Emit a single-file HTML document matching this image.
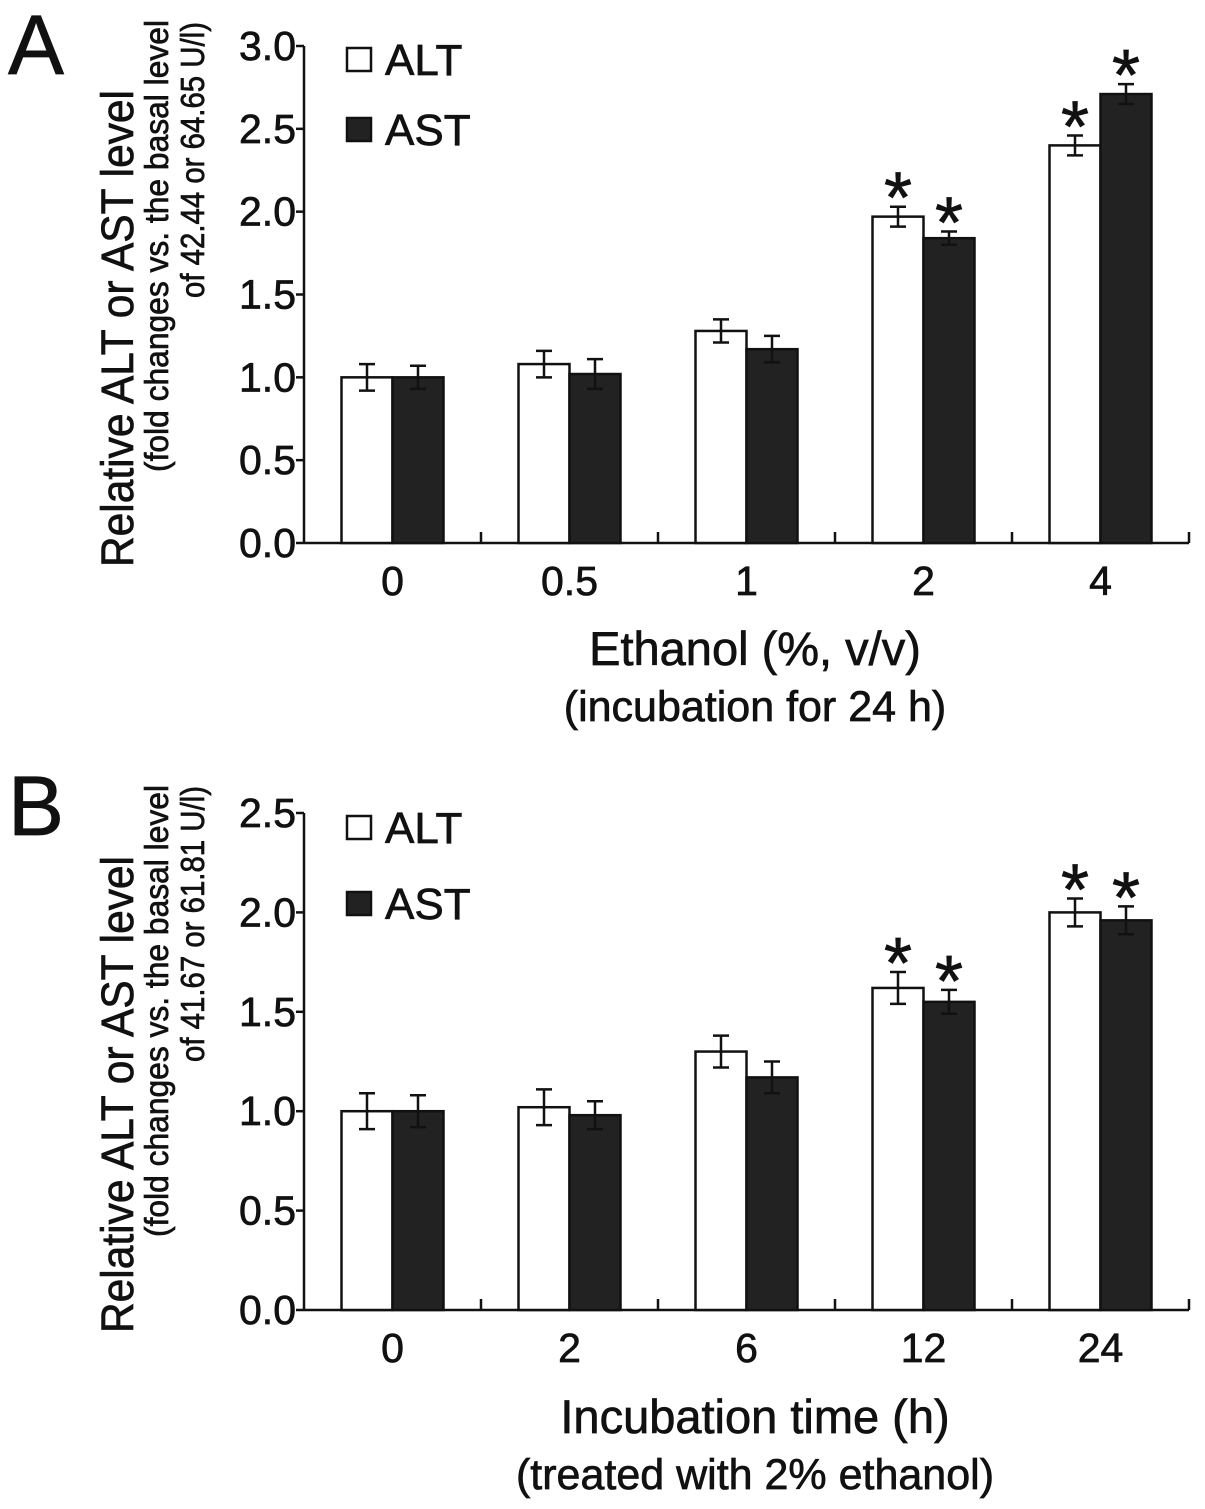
<!DOCTYPE html>
<html><head><meta charset="utf-8"><style>
html,body{margin:0;padding:0;background:#fff;}
svg{display:block;font-family:"Liberation Sans",Arial,sans-serif;}
text{stroke:#111;stroke-width:0.7px;}
</style></head><body>
<svg id="fig" width="1205" height="1509" viewBox="0 0 1205 1509" xmlns="http://www.w3.org/2000/svg">
<g id="panelA"></g>
<g id="panelB"></g>
</svg>
<script>
// Panel A data
const catsA = ["0","0.5","1","2","4"];
const altA = [1.00,1.08,1.28,1.97,2.40];
const altErrA = [0.08,0.08,0.07,0.06,0.06];
const astA = [1.00,1.02,1.17,1.84,2.71];
const astErrA = [0.07,0.09,0.08,0.04,0.06];
const sigA = [false,false,false,true,true];
const ticksA = [0,0.5,1.0,1.5,2.0,2.5,3.0];
// Panel B data
const catsB = ["0","2","6","12","24"];
const altB = [1.00,1.02,1.30,1.62,2.00];
const altErrB = [0.09,0.09,0.08,0.08,0.07];
const astB = [1.00,0.98,1.17,1.55,1.96];
const astErrB = [0.08,0.07,0.08,0.06,0.07];
const sigB = [false,false,false,true,true];
const ticksB = [0,0.5,1.0,1.5,2.0,2.5];

const NS="http://www.w3.org/2000/svg";
function mk(parent,tag,attrs,text){
  const e=document.createElementNS(NS,tag);
  for(const k in attrs) e.setAttribute(k,attrs[k]);
  if(text!==undefined) e.textContent=text;
  parent.appendChild(e); return e;
}

function drawPanel(g,cfg){
  const x0=304, step=177, bw=51;
  const yScale=v=>cfg.y0-(v-0)/(cfg.ymax)*(cfg.y0-cfg.ytop);
  const xc=i=>x0+step*(i+0.5);
  let e=mk(g,'line',{x1:x0,y1:cfg.ytop,x2:x0,y2:cfg.y0,stroke:'#111','stroke-width':2.5});
   
  e=mk(g,'line',{x1:x0,y1:cfg.y0,x2:x0+step*cfg.cats.length,y2:cfg.y0,stroke:'#111','stroke-width':2.5});
   
  cfg.ticks.forEach(t=>{
    const y=yScale(t);
    let l=mk(g,'line',{x1:x0-8,y1:y,x2:x0,y2:y,stroke:'#111','stroke-width':2.5});
     
    let tx=mk(g,'text',{x:x0-8,y:y+14,'text-anchor':'end','font-size':41,fill:'#111'},t.toFixed(1));
     
  });
  cfg.cats.forEach((c,i)=>{
    const bx=x0+step*(i+1);
    let l=mk(g,'line',{x1:bx,y1:cfg.y0,x2:bx,y2:cfg.y0-11,stroke:'#111','stroke-width':2.5});
     
    let tx=mk(g,'text',{x:xc(i),y:cfg.y0+52,'text-anchor':'middle','font-size':41,fill:'#111'},c);
     
    const series=[[cfg.alt[i],cfg.altErr[i],'#fff',xc(i)-bw,'alt'],[cfg.ast[i],cfg.astErr[i],'#222',xc(i),'ast']];
    series.forEach(([v,er,fill,x,nm])=>{
      const y=yScale(v);
      let r=mk(g,'rect',{x:x,y:y,width:bw,height:cfg.y0-y,fill:fill,stroke:'#111','stroke-width':2.5});
       
      const cx=x+bw/2, yt=yScale(v+er), yb=yScale(v-er);
      let eb=mk(g,'path',{d:`M${cx-8},${yt}H${cx+8}M${cx},${yt}V${yb}M${cx-8},${yb}H${cx+8}`,stroke:'#111','stroke-width':2.5,fill:'none'});
       
      if(cfg.sig[i]){
        let s=mk(g,'text',{x:cx,y:yt+16,'text-anchor':'middle','font-size':72,fill:'#111'},'*');
         
      }
    });
  });
  const L=cfg.leg;
  let lb=mk(g,'rect',{x:347,y:L[0],width:24,height:23,fill:'#fff',stroke:'#111','stroke-width':2.5});
   
  let lt=mk(g,'text',{x:385,y:L[0]+27,'font-size':44,fill:'#111'},'ALT');
   
  lb=mk(g,'rect',{x:347,y:L[1],width:24,height:23,fill:'#222',stroke:'#111','stroke-width':2.5});
   
  lt=mk(g,'text',{x:385,y:L[1]+27,'font-size':44,fill:'#111'},'AST');
   
  let pl=mk(g,'text',{x:8,y:cfg.letterY,'font-size':84,fill:'#111'},cfg.letter);
   
  const yt=cfg.yt;
  let t1=mk(g,'text',{transform:`translate(133,${yt[0]}) rotate(-90)`,'font-size':45,fill:'#111',textLength:yt[1],lengthAdjust:'spacingAndGlyphs'},'Relative ALT or AST level');
   
  let t2=mk(g,'text',{transform:`translate(168,${yt[2]}) rotate(-90)`,'font-size':33,fill:'#111',textLength:yt[3],lengthAdjust:'spacingAndGlyphs'},'(fold changes vs. the  basal level');
   
  let t3=mk(g,'text',{transform:`translate(204,${yt[4]}) rotate(-90)`,'font-size':33,fill:'#111',textLength:yt[5],lengthAdjust:'spacingAndGlyphs'},cfg.basal);
   
  let x1=mk(g,'text',{x:755,y:cfg.xtY,'text-anchor':'middle','font-size':47,fill:'#111'},cfg.xt1);
   
  let x2=mk(g,'text',{x:755,y:cfg.xtY+56,'text-anchor':'middle','font-size':43,fill:'#111'},cfg.xt2);
   
}

drawPanel(document.getElementById('panelA'),{
  cats:catsA,alt:altA,altErr:altErrA,ast:astA,astErr:astErrA,sig:sigA,ticks:ticksA,
  y0:543,ytop:46,ymax:3.0,leg:[48,118],letter:'A',letterY:74,
  yt:[567,477,472,452,298,276],basal:'of 42.44 or 64.65 U/l)',
  xtY:665,xt1:'Ethanol (%, v/v)',xt2:'(incubation for 24 h)'
});
drawPanel(document.getElementById('panelB'),{
  cats:catsB,alt:altB,altErr:altErrB,ast:astB,astErr:astErrB,sig:sigB,ticks:ticksB,
  y0:1310,ytop:813,ymax:2.5,leg:[816,892],letter:'B',letterY:835,
  yt:[1333,477,1237,452,1062,276],basal:'of 41.67 or 61.81 U/l)',
  xtY:1433,xt1:'Incubation time (h)',xt2:'(treated with 2% ethanol)'
});
</script>
</body></html>
